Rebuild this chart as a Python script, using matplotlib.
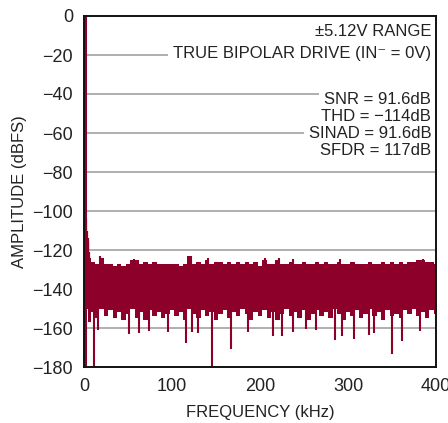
import matplotlib
matplotlib.use("Agg")
import matplotlib.pyplot as plt
import numpy as np

plt.rcParams['font.family'] = ['Liberation Sans', 'DejaVu Sans']

# ---- data ----
fund_freq = 1.0          # kHz
fund_level = 0.0         # dBFS
skirt_freq = [2.0, 3.0, 4.0, 5.0, 6.0]
skirt_top = [-104.0, -110.0, -114.0, -116.0, -121.0]

bin_freq = list(range(5, 405, 5))
upper = [-124, -126, -127, -124, -127, -127, -128, -127, -128, -127,
         -125, -125, -127, -126, -127, -126, -127, -127, -127, -127,
         -127, -128, -127, -123, -127, -126, -127, -125, -127, -126,
         -126, -127, -126, -127, -126, -127, -126, -127, -126, -128,
         -125, -127, -127, -125, -127, -127, -126, -127, -127, -126,
         -127, -127, -126, -127, -126, -127, -127, -126, -127, -127,
         -126, -127, -127, -127, -126, -127, -127, -126, -127, -126,
         -127, -126, -127, -126, -126, -125, -125, -126, -126, -127]
lower = [-157, -152, -155, -150, -154, -151, -155, -152, -156, -153,
         -150, -155, -152, -156, -151, -154, -152, -155, -153, -151,
         -154, -152, -156, -150, -153, -155, -151, -154, -152, -156,
         -153, -151, -155, -152, -154, -150, -153, -156, -152, -154,
         -151, -155, -152, -156, -153, -150, -154, -152, -155, -151,
         -156, -153, -151, -154, -152, -155, -150, -153, -156, -152,
         -154, -151, -155, -153, -150, -154, -152, -156, -151, -154,
         -153, -155, -151, -153, -150, -154, -152, -155, -151, -153]

down_freq = [11.4, 16, 51, 62, 74, 95.5, 115.5, 123, 129.6, 145.8, 167, 186,
             215, 224.6, 238, 252, 263.6, 285, 292.8, 307, 324, 330, 350, 361, 382]
down_level = [-180, -161, -163, -162.5, -161.5, -161.8, -167.7, -162, -162.7, -180,
              -170.8, -162, -164, -164, -161.8, -160.5, -161, -166, -164, -165.5,
              -163.8, -162.6, -173.5, -166.5, -161.6]
up_freq = [18, 57, 122, 141, 206, 222, 238, 291, 385]
up_level = [-123, -124.5, -122.9, -124, -124, -124, -124.5, -124.5, -124.5]

y_ticks = [0, -20, -40, -60, -80, -100, -120, -140, -160, -180]
x_ticks = [0, 100, 200, 300, 400]
notes = ["±5.12V RANGE", "TRUE BIPOLAR DRIVE (IN\u207b = 0V)",
         "SNR = 91.6dB", "THD = \u2212114dB", "SINAD = 91.6dB", "SFDR = 117dB"]
note_y = [-7.7, -19.2, -42.6, -51.3, -60.5, -69.2]

color = '#8c0029'

fig = plt.figure(figsize=(4.48, 4.23), dpi=100)
ax = fig.add_axes([84/448, 1-367/423, (436-84)/448, (367-16)/423])

ax.set_xlim(0, 400)
ax.set_ylim(-180, 0)

for yt in y_ticks[1:-1]:
    ax.axhline(yt, color='#9a9a9a', lw=1.1, zorder=1)

# noise floor band
ax.fill_between(bin_freq, lower, upper, step='mid', color=color, lw=0, zorder=3)
ax.vlines(down_freq, -145, down_level, color=color, lw=1.5, zorder=3)
ax.vlines(up_freq, -135, up_level, color=color, lw=1.5, zorder=3)
# skirt and fundamental
ax.vlines(skirt_freq, -150, skirt_top, color=color, lw=1.6, zorder=3)
ax.vlines([fund_freq], -180, fund_level, color=color, lw=2.2, zorder=4)

ax.set_yticks(y_ticks)
ax.set_yticklabels([str(v).replace('-', '\u2212') for v in y_ticks])
ax.set_xticks(x_ticks)
ax.set_xticklabels([str(v) for v in x_ticks])
ax.tick_params(length=0, labelsize=13, pad=8, colors='#222222')
for s in ax.spines.values():
    s.set_linewidth(1.4)
    s.set_color('#111111')
    s.set_zorder(10)

ax.set_xlabel("FREQUENCY (kHz)", fontsize=12, color='#222222', labelpad=7)
ax.set_ylabel("AMPLITUDE (dBFS)", fontsize=12, color='#222222', labelpad=4)

for t, yv in zip(notes, note_y):
    ax.text(394.5, yv, t, ha='right', va='center', fontsize=12,
            color='#222222', zorder=5,
            bbox=dict(facecolor='white', edgecolor='none', pad=3.5))

fig.savefig("out.png", dpi=100)
